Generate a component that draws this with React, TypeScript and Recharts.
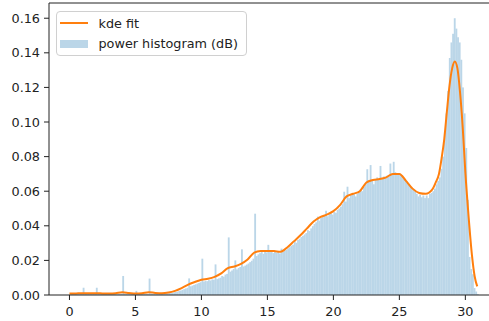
import { ComposedChart, Bar, Line, XAxis, YAxis, Legend, ReferenceLine } from "recharts";

// histogram bins: 0.125 dB wide, starting at 0 dB
const binStart = 0;
const binWidth = 0.125;
const histDensity = [
  // 0 - 1
  0.0004, 0.0006, 0.0005, 0.0007, 0.0006, 0.0008, 0.0007, 0.0006,
  // 1 - 2
  0.0042, 0.0007, 0.0008, 0.0006, 0.0009, 0.0007, 0.0008, 0.0006,
  // 2 - 3
  0.0042, 0.0008, 0.0007, 0.0009, 0.0006, 0.0007, 0.0008, 0.0006,
  // 3 - 4
  0.0006, 0.0005, 0.0007, 0.0006, 0.0005, 0.0007, 0.0006, 0.0008,
  // 4 - 5
  0.0110, 0.0008, 0.0007, 0.0006, 0.0008, 0.0006, 0.0007, 0.0005,
  // 5 - 6
  0.0024, 0.0006, 0.0005, 0.0007, 0.0006, 0.0008, 0.0007, 0.0006,
  // 6 - 7
  0.0095, 0.0008, 0.0007, 0.0009, 0.0008, 0.0007, 0.0009, 0.0008,
  // 7 - 8
  0.0010, 0.0009, 0.0011, 0.0010, 0.0012, 0.0014, 0.0013, 0.0016,
  // 8 - 9
  0.0018, 0.0020, 0.0024, 0.0026, 0.0030, 0.0034, 0.0038, 0.0042,
  // 9 - 10
  0.0096, 0.0050, 0.0054, 0.0058, 0.0062, 0.0066, 0.0070, 0.0074,
  // 10 - 11
  0.0210, 0.0078, 0.0082, 0.0080, 0.0086, 0.0084, 0.0090, 0.0088,
  // 11 - 12
  0.0177, 0.0092, 0.0096, 0.0100, 0.0110, 0.0106, 0.0118, 0.0122,
  // 12 - 13
  0.0333, 0.0135, 0.0142, 0.0150, 0.0200, 0.0148, 0.0156, 0.0162,
  // 13 - 14
  0.0264, 0.0165, 0.0170, 0.0176, 0.0182, 0.0190, 0.0198, 0.0210,
  // 14 - 15
  0.0470, 0.0225, 0.0235, 0.0242, 0.0250, 0.0238, 0.0252, 0.0246,
  // 15 - 16
  0.0290, 0.0248, 0.0255, 0.0242, 0.0250, 0.0245, 0.0253, 0.0240,
  // 16 - 17
  0.0268, 0.0250, 0.0258, 0.0262, 0.0270, 0.0276, 0.0285, 0.0290,
  // 17 - 18
  0.0310, 0.0302, 0.0318, 0.0325, 0.0335, 0.0342, 0.0350, 0.0358,
  // 18 - 19
  0.0375, 0.0370, 0.0385, 0.0398, 0.0410, 0.0420, 0.0453, 0.0430,
  // 19 - 20
  0.0445, 0.0450, 0.0460, 0.0487, 0.0455, 0.0468, 0.0472, 0.0465,
  // 20 - 21
  0.0480, 0.0475, 0.0492, 0.0500, 0.0510, 0.0525, 0.0597, 0.0540,
  // 21 - 22
  0.0626, 0.0560, 0.0575, 0.0580, 0.0590, 0.0570, 0.0585, 0.0595,
  // 22 - 23
  0.0610, 0.0600, 0.0625, 0.0640, 0.0727, 0.0655, 0.0751, 0.0660,
  // 23 - 24
  0.0640, 0.0665, 0.0680, 0.0670, 0.0746, 0.0672, 0.0685, 0.0678,
  // 24 - 25
  0.0690, 0.0685, 0.0760, 0.0700, 0.0770, 0.0710, 0.0695, 0.0705,
  // 25 - 26
  0.0700, 0.0690, 0.0675, 0.0665, 0.0650, 0.0640, 0.0630, 0.0620,
  // 26 - 27
  0.0610, 0.0600, 0.0585, 0.0570, 0.0580, 0.0565, 0.0575, 0.0560,
  // 27 - 28
  0.0575, 0.0560, 0.0585, 0.0590, 0.0600, 0.0615, 0.0640, 0.0660,
  // 28 - 29
  0.0680, 0.0730, 0.0800, 0.0940, 0.1050, 0.1180, 0.1370, 0.1460,
  // 29 - 30
  0.1510, 0.1600, 0.1540, 0.1490, 0.1460, 0.1360, 0.1200, 0.1050,
  // 30 - 31
  0.0850, 0.0550, 0.0220, 0.0150, 0.0120, 0.0040, 0.0020, 0.0005,
];

// kernel density estimate
const kdeX = [
  0, 0.5, 1, 1.5, 2, 2.5, 3, 3.5, 4, 4.5, 5, 5.5, 6, 6.5, 7, 7.5, 8, 8.5, 9, 9.5,
  10, 10.5, 11, 11.5, 12, 12.5, 13, 13.5, 14, 14.5, 15, 15.5, 16, 16.5, 17, 17.5,
  18, 18.5, 19, 19.5, 20, 20.5, 21, 21.5, 22, 22.5, 23, 23.5, 24, 24.5, 25, 25.5,
  26, 26.5, 27, 27.5, 27.75, 28, 28.2, 28.4, 28.6, 28.8, 29, 29.2, 29.4, 29.6,
  29.8, 30, 30.25, 30.5, 30.7, 30.9,
];
const kdeY = [
  0.0008, 0.0009, 0.001, 0.001, 0.001, 0.0009, 0.0008, 0.001, 0.0016, 0.0012,
  0.0008, 0.001, 0.0016, 0.0012, 0.001, 0.0014, 0.0024, 0.004, 0.006, 0.0075,
  0.0088, 0.0094, 0.0105, 0.0125, 0.0155, 0.0165, 0.018, 0.0205, 0.0245, 0.0254,
  0.0255, 0.0254, 0.025, 0.0275, 0.031, 0.0345, 0.0385, 0.0425, 0.045, 0.0465,
  0.0485, 0.052, 0.057, 0.0585, 0.06, 0.065, 0.0665, 0.067, 0.068, 0.07, 0.07,
  0.066, 0.0615, 0.059, 0.0585, 0.061, 0.065, 0.07, 0.079, 0.09, 0.106, 0.121,
  0.131, 0.135, 0.131, 0.117, 0.097, 0.071, 0.045, 0.023, 0.011, 0.005,
];

const xTicks = [0, 5, 10, 15, 20, 25, 30];
const yTicks = [0, 0.02, 0.04, 0.06, 0.08, 0.1, 0.12, 0.14, 0.16];

const histData = histDensity.map((density, i) => ({
  x: binStart + (i + 0.5) * binWidth,
  density,
}));
const kdeData = kdeX.map((x, i) => ({ x, kde: kdeY[i] }));

const X_MIN = -1.55;
const X_MAX = 32.55;
const Y_MAX = 0.1688;

const W = 500;
const H = 321;
const margin = { top: 3, right: 1, bottom: 0, left: 0 };
const Y_AXIS_W = 49;
const X_AXIS_H = 26;

// pixel width of one bin on the x axis
const plotW = W - margin.left - margin.right - Y_AXIS_W;
const binPx = (binWidth / (X_MAX - X_MIN)) * plotW;

// C0 at 30% alpha over white
const histColor = "#bbd6e8";
const font = "'DejaVu Sans', Verdana, sans-serif";
const fontSize = 12.8;
const tickStyle = { fontSize, fill: "#222", fontFamily: font };

// Recharts floors sub-2px bars; redraw each one centred on its bin, full bin wide
function HistBar(props: any) {
  const { x, y, width, height } = props;
  if (!(height > 0)) return null;
  const cx = x + width / 2;
  return <rect x={cx - binPx / 2} y={y} width={binPx + 0.2} height={height} fill={histColor} />;
}

function LegendBox({ payload }: any) {
  const items = [...(payload || [])].sort((a: any, b: any) =>
    a.type === "line" ? -1 : b.type === "line" ? 1 : 0
  );
  return (
    <div
      style={{
        border: "1px solid #d0d0d0",
        borderRadius: 4,
        background: "rgba(255,255,255,0.8)",
        padding: "1px 8px 1px 3px",
        fontFamily: font,
        fontSize,
        color: "#222",
      }}
    >
      {items.map((it: any) => (
        <div key={it.value} style={{ display: "flex", alignItems: "center", height: 20.5 }}>
          <div style={{ width: 28, height: 8, marginRight: 10.5, display: "flex", alignItems: "center" }}>
            {it.type === "line" ? (
              <div style={{ width: 28, height: 2, background: "#ff7f0e" }} />
            ) : (
              <div style={{ width: 28, height: 8, background: histColor }} />
            )}
          </div>
          <span>{it.value}</span>
        </div>
      ))}
    </div>
  );
}

export default function App() {
  return (
    <div
      style={{
        position: "absolute",
        left: 0,
        top: 0,
        width: 489,
        height: 321,
        overflow: "hidden",
        background: "#fff",
      }}
    >
      <ComposedChart width={W} height={H} data={histData} margin={margin} barCategoryGap={0} barGap={0}>
        <XAxis
          dataKey="x"
          type="number"
          domain={[X_MIN, X_MAX]}
          ticks={xTicks}
          allowDataOverflow
          height={X_AXIS_H}
          tick={tickStyle}
          tickSize={5}
          tickMargin={7}
          axisLine={{ stroke: "#222" }}
          tickLine={{ stroke: "#222" }}
        />
        <YAxis
          type="number"
          domain={[0, Y_MAX]}
          ticks={yTicks}
          allowDataOverflow
          width={Y_AXIS_W}
          tick={tickStyle}
          tickSize={5}
          tickMargin={4}
          tickFormatter={(v: number) => v.toFixed(2)}
          axisLine={{ stroke: "#222" }}
          tickLine={{ stroke: "#222" }}
        />
        <ReferenceLine y={Y_MAX} stroke="#222" />
        <ReferenceLine x={X_MAX} stroke="#222" />
        <Bar
          dataKey="density"
          name="power histogram (dB)"
          fill={histColor}
          shape={HistBar}
          legendType="rect"
          isAnimationActive={false}
        />
        <Line
          data={kdeData}
          dataKey="kde"
          name="kde fit"
          type="monotone"
          stroke="#ff7f0e"
          strokeWidth={2}
          dot={false}
          legendType="line"
          isAnimationActive={false}
        />
        <Legend
          layout="vertical"
          align="center"
          verticalAlign="middle"
          content={LegendBox}
          wrapperStyle={{ left: 56, top: 11, width: "auto" }}
        />
      </ComposedChart>
    </div>
  );
}
